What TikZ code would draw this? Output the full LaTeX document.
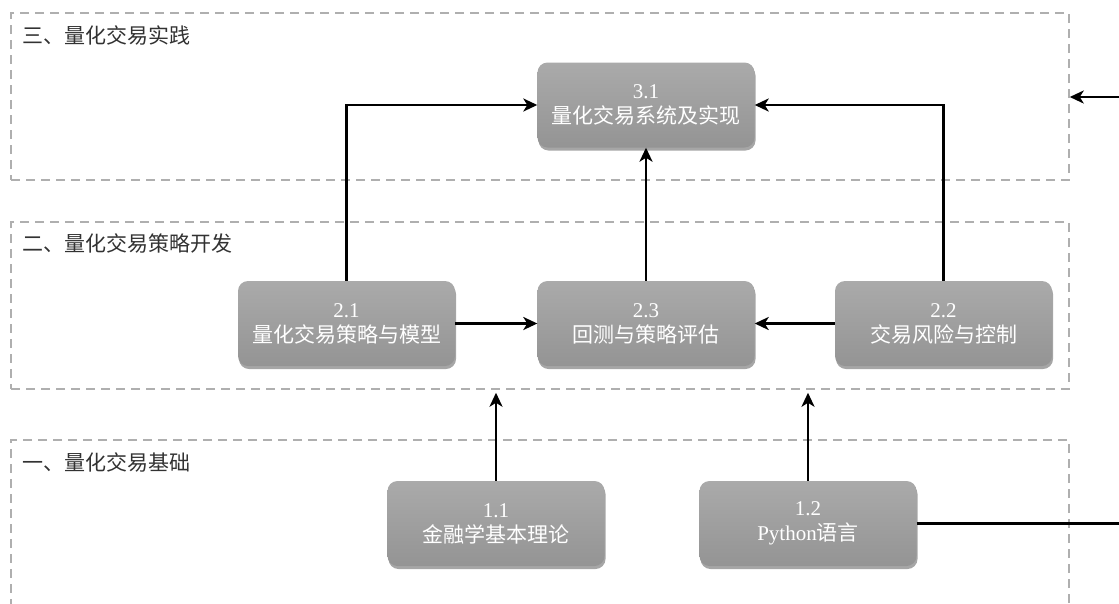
\documentclass[tikz,border=0pt]{standalone}
\usepackage{fontspec}
\setmainfont{Liberation Serif}
\newfontfamily\cjk{Noto Sans CJK SC}
\usetikzlibrary{arrows.meta,shadows,calc}
\definecolor{boxtop}{RGB}{170,170,170}
\definecolor{boxbot}{RGB}{148,148,148}
\definecolor{dashgray}{RGB}{175,175,175}
\definecolor{labgray}{RGB}{50,50,50}
\tikzset{
  stepbox/.style={rounded corners=10pt, minimum width=217pt, minimum height=85pt,
    top color=boxtop, bottom color=boxbot, draw=none, text=white,
    align=center, font=\fontsize{21pt}{25pt}\selectfont,
    drop shadow={shadow xshift=1pt, shadow yshift=-3pt, opacity=0.35, fill=black}},
  layer/.style={draw=dashgray, line width=1.5pt, dash pattern=on 9pt off 6pt,
    inner sep=0pt},
  laylab/.style={anchor=west, text=labgray, font=\cjk\fontsize{21pt}{24pt}\selectfont, inner sep=0pt},
  arr/.style={-{Stealth[length=14pt,width=13pt,inset=4pt]}, line width=2.5pt, black}
}
\begin{document}
\begin{tikzpicture}[x=1pt,y=-1pt]
\useasboundingbox (0,0) rectangle (1119,603);
% layers
\node[layer, minimum width=1058pt, minimum height=167pt] (L3) at (540,96.5) {};
\node[layer, minimum width=1058pt, minimum height=167pt] (L2) at (540,305.5) {};
\node[layer, minimum width=1058pt, minimum height=200pt] (L1) at (540,540) {};
\node[laylab] (t3) at (22,35) {三、量化交易实践};
\node[laylab] (t2) at (22,243) {二、量化交易策略开发};
\node[laylab] (t1) at (22,462) {一、量化交易基础};
% nodes
\node[stepbox] (n31) at (646,105) {3.1\\{\cjk 量化交易系统及实现}};
\node[stepbox] (n21) at (346.5,323.5) {2.1\\{\cjk 量化交易策略与模型}};
\node[stepbox] (n23) at (646,323.5) {2.3\\{\cjk 回测与策略评估}};
\node[stepbox] (n22) at (943.5,323.5) {2.2\\{\cjk 交易风险与控制}};
\node[stepbox] (n11) at (496,523.5) {1.1\\{\cjk 金融学基本理论}};
\node[stepbox] (n12) at (808,523.5) {1.2\\Python{\cjk 语言}};
% connectors
\draw[arr] (n21.north) |- (n31.west);
\draw[arr] (n22.north) |- (n31.east);
\draw[arr] (n23) -- (n31);
\draw[arr] (n21) -- (n23);
\draw[arr] (n22) -- (n23);
\draw[arr] (n11.north) -- ($(n11.north |- L2.south)+(0,3)$);
\draw[arr] (n12.north) -- ($(n12.north |- L2.south)+(0,3)$);
\coordinate (cTop) at (1122,97);
\draw[arr] (n12.east) -| (cTop) -- (cTop -| L3.east);
\end{tikzpicture}
\end{document}
